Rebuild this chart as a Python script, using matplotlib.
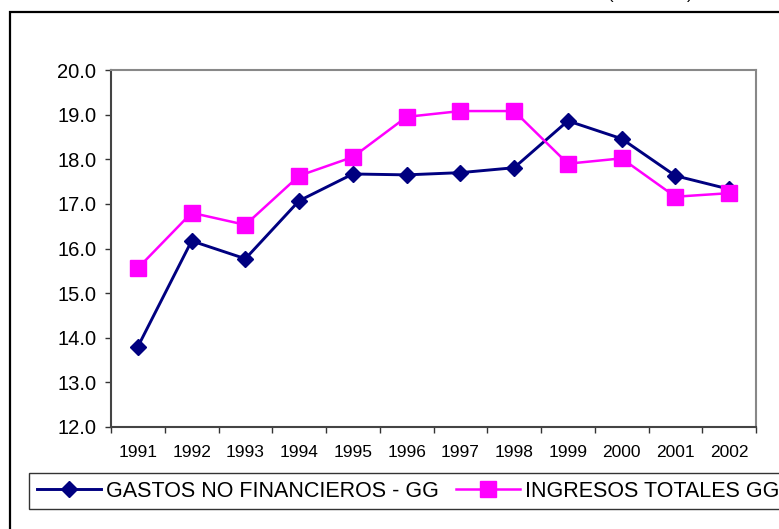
import matplotlib
matplotlib.use("Agg")
import matplotlib.pyplot as plt
import matplotlib.patches as mpatches
import numpy as np

plt.rcParams["font.family"] = ["Liberation Sans", "DejaVu Sans"]

# --- data ---
years = ["1991", "1992", "1993", "1994", "1995", "1996",
         "1997", "1998", "1999", "2000", "2001", "2002"]
gastos = [13.8, 16.17, 15.77, 17.07, 17.67, 17.65,
          17.70, 17.81, 18.86, 18.46, 17.63, 17.33]
ingresos = [15.56, 16.80, 16.53, 17.63, 18.05, 18.95,
            19.08, 19.08, 17.90, 18.02, 17.16, 17.24]
y_ticks = [12.0, 13.0, 14.0, 15.0, 16.0, 17.0, 18.0, 19.0, 20.0]

NAVY = "#000080"
MAGENTA = "#FF00FF"

fig = plt.figure(figsize=(7.79, 5.29), dpi=100)
fig.patch.set_facecolor("white")

# outer chart frame (cut by the image edge on right/bottom)
frame = mpatches.Rectangle((10 / 779, -0.05), 1.0, (529 - 12) / 529 + 0.05,
                           transform=fig.transFigure, fill=False,
                           edgecolor="black", linewidth=1.6)
fig.patches.append(frame)

# title fragment cut by the top edge
fig.text(650 / 779, 1.0 + 1.5 / 529, "(% del PIB)", ha="center", va="baseline",
         fontsize=12)

ax = fig.add_axes([111 / 779, (529 - 427) / 529, (756 - 111) / 779, (427 - 70) / 529])

x = np.arange(len(years))
ax.plot(x, gastos, color=NAVY, linewidth=2.1, marker="D", markersize=8,
        label="GASTOS NO FINANCIEROS - GG", zorder=3)
ax.plot(x, ingresos, color=MAGENTA, linewidth=1.8, marker="s", markersize=11,
        label="INGRESOS TOTALES GG", zorder=3)

ax.set_xlim(-0.5, len(years) - 0.5)
ax.set_ylim(12, 20)
ax.set_yticks(y_ticks)
ax.set_yticklabels([f"{v:.1f}" for v in y_ticks], fontsize=14.5)
ax.set_xticks(x)
ax.set_xticklabels(years, fontsize=12.5)
ax.set_xticks(np.arange(len(years) + 1) - 0.5, minor=True)
ax.tick_params(axis="x", which="major", length=0, pad=13)
ax.tick_params(axis="x", which="minor", length=4.5, width=1, color="#333333")
ax.tick_params(axis="y", length=4.5, width=1, color="#333333", pad=6)

for side in ["top", "right"]:
    ax.spines[side].set_color("#888888")
    ax.spines[side].set_linewidth(1.5)
for side in ["left", "bottom"]:
    ax.spines[side].set_color("#444444")
    ax.spines[side].set_linewidth(1.5)

leg = fig.legend(loc="upper left", bbox_to_anchor=(29 / 779, (529 - 473) / 529),
                 ncol=2, fontsize=15.5, frameon=True, fancybox=False,
                 edgecolor="black", handlelength=3.0, handletextpad=0.25,
                 columnspacing=0.75, borderpad=0.35, borderaxespad=0)
leg.get_frame().set_linewidth(1.0)

fig.savefig("out.png", dpi=100, facecolor="white")
